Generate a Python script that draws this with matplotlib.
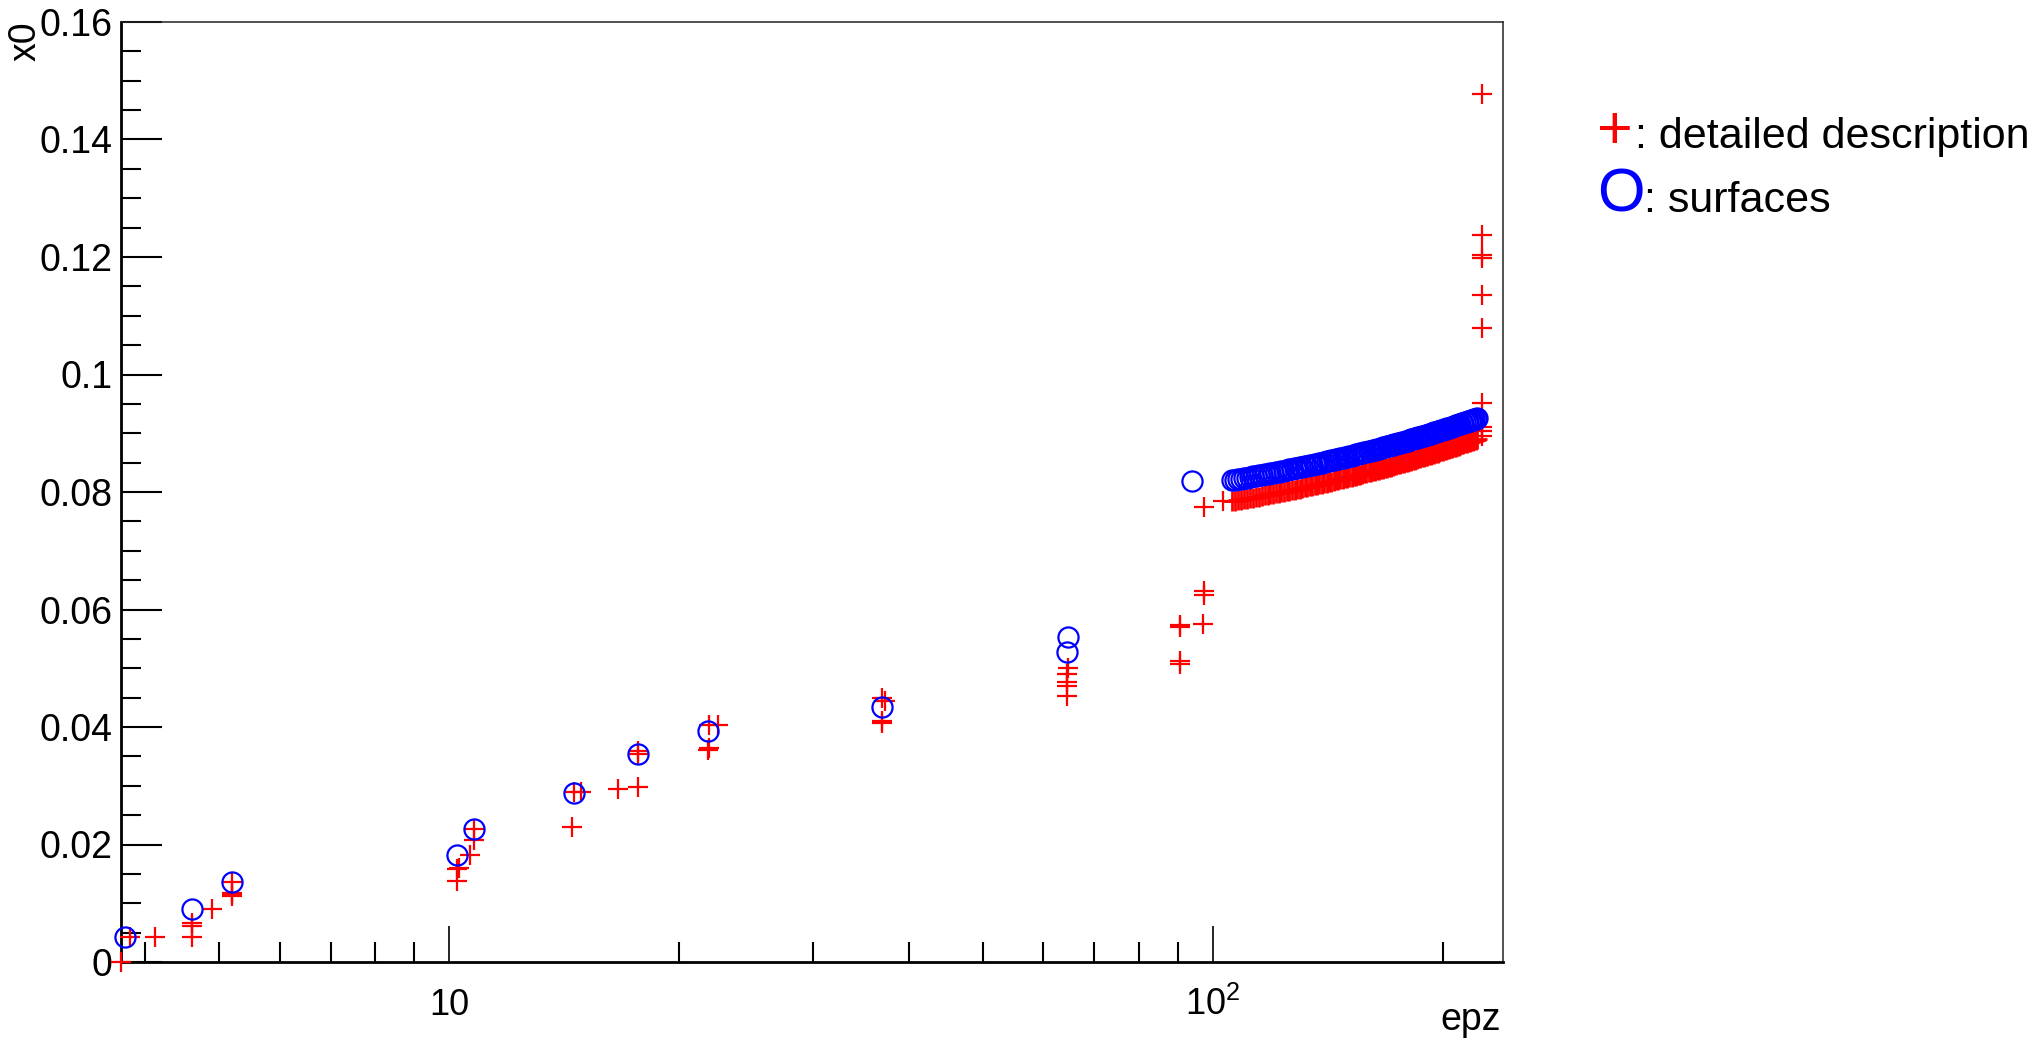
import matplotlib
matplotlib.use('Agg')
import matplotlib.pyplot as plt
from matplotlib.ticker import FixedLocator, FixedFormatter, NullFormatter, LogLocator, MultipleLocator
from matplotlib.transforms import IdentityTransform

plt.rcParams['font.family'] = ['Liberation Sans', 'DejaVu Sans']
plt.rcParams['mathtext.fontset'] = 'custom'
plt.rcParams['mathtext.rm'] = 'Liberation Sans'
plt.rcParams['mathtext.default'] = 'regular'

# ---------------- data ----------------
# detailed description (red +), isolated points
detail_epz = [3.72, 3.82, 4.12, 4.61, 4.61, 4.61, 4.89, 5.20, 5.20, 5.20, 5.20,
              10.24, 10.24, 10.30, 10.65, 10.78, 10.80,
              14.49, 14.6, 14.9, 16.65, 17.67, 17.67, 17.7,
              21.83, 21.9, 21.9, 22.5,
              36.9, 36.9, 36.9, 37.2,
              64.4, 64.4, 64.4, 64.4, 64.6,
              90.6, 90.6, 90.6, 90.6, 97.0, 97.3, 97.3, 97.3, 103.1,
              225, 225, 225, 225, 225, 225, 225, 225, 225, 225]
detail_x0 = [0.0000, 0.0043, 0.0043, 0.0043, 0.0061, 0.0066, 0.0090, 0.0112, 0.0115, 0.0118, 0.0136,
             0.0138, 0.0158, 0.0160, 0.0182, 0.0208, 0.0227,
             0.0230, 0.0290, 0.0290, 0.0294, 0.0298, 0.0354, 0.0360,
             0.0361, 0.0365, 0.0403, 0.0403,
             0.0407, 0.0410, 0.0449, 0.0445,
             0.0453, 0.0470, 0.0477, 0.0490, 0.0500,
             0.0508, 0.0513, 0.0570, 0.0573, 0.0575, 0.0625, 0.0631, 0.0775, 0.0785,
             0.0895, 0.0903, 0.0910, 0.0951, 0.1079, 0.1135, 0.1198, 0.1203, 0.1238, 0.1478]

# dense band part (both series)
band_epz = [106, 107, 108, 109, 110, 111, 112, 113, 114, 115,
            116, 117, 118, 119, 120, 121, 122, 123, 124, 125,
            126, 127, 128, 129, 130, 131, 132, 133, 134, 135,
            136, 137, 138, 139, 140, 141, 142, 143, 144, 145,
            146, 147, 148, 149, 150, 151, 152, 153, 154, 155,
            156, 157, 158, 159, 160, 161, 162, 163, 164, 165,
            166, 167, 168, 169, 170, 171, 172, 173, 174, 175,
            176, 177, 178, 179, 180, 181, 182, 183, 184, 185,
            186, 187, 188, 189, 190, 191, 192, 193, 194, 195,
            196, 197, 198, 199, 200, 201, 202, 203, 204, 205,
            206, 207, 208, 209, 210, 211, 212, 213, 214, 215,
            216, 217, 218, 219, 220, 221, 222]
band_detail_x0 = [0.07840, 0.07849, 0.07858, 0.07867, 0.07877, 0.07886, 0.07895, 0.07904, 0.07913, 0.07922,
                  0.07931, 0.07941, 0.07950, 0.07959, 0.07968, 0.07977, 0.07986, 0.07995, 0.08005, 0.08014,
                  0.08023, 0.08032, 0.08041, 0.08050, 0.08059, 0.08069, 0.08078, 0.08087, 0.08096, 0.08105,
                  0.08114, 0.08123, 0.08133, 0.08142, 0.08151, 0.08160, 0.08169, 0.08178, 0.08187, 0.08197,
                  0.08206, 0.08215, 0.08224, 0.08233, 0.08242, 0.08251, 0.08261, 0.08270, 0.08279, 0.08288,
                  0.08297, 0.08306, 0.08315, 0.08325, 0.08334, 0.08343, 0.08352, 0.08361, 0.08370, 0.08379,
                  0.08388, 0.08398, 0.08407, 0.08416, 0.08425, 0.08434, 0.08443, 0.08452, 0.08462, 0.08471,
                  0.08480, 0.08489, 0.08498, 0.08507, 0.08516, 0.08526, 0.08535, 0.08544, 0.08553, 0.08562,
                  0.08571, 0.08580, 0.08590, 0.08599, 0.08608, 0.08617, 0.08626, 0.08635, 0.08644, 0.08654,
                  0.08663, 0.08672, 0.08681, 0.08690, 0.08699, 0.08708, 0.08718, 0.08727, 0.08736, 0.08745,
                  0.08754, 0.08763, 0.08772, 0.08782, 0.08791, 0.08800, 0.08809, 0.08818, 0.08827, 0.08836,
                  0.08846, 0.08855, 0.08864, 0.08873, 0.08882, 0.08891, 0.08900]
band_surface_x0 = [0.08200, 0.08209, 0.08218, 0.08227, 0.08237, 0.08246, 0.08255, 0.08264, 0.08273, 0.08282,
                   0.08291, 0.08301, 0.08310, 0.08319, 0.08328, 0.08337, 0.08346, 0.08355, 0.08365, 0.08374,
                   0.08383, 0.08392, 0.08401, 0.08410, 0.08419, 0.08429, 0.08438, 0.08447, 0.08456, 0.08465,
                   0.08474, 0.08483, 0.08493, 0.08502, 0.08511, 0.08520, 0.08529, 0.08538, 0.08547, 0.08557,
                   0.08566, 0.08575, 0.08584, 0.08593, 0.08602, 0.08611, 0.08621, 0.08630, 0.08639, 0.08648,
                   0.08657, 0.08666, 0.08675, 0.08685, 0.08694, 0.08703, 0.08712, 0.08721, 0.08730, 0.08739,
                   0.08748, 0.08758, 0.08767, 0.08776, 0.08785, 0.08794, 0.08803, 0.08812, 0.08822, 0.08831,
                   0.08840, 0.08849, 0.08858, 0.08867, 0.08876, 0.08886, 0.08895, 0.08904, 0.08913, 0.08922,
                   0.08931, 0.08940, 0.08950, 0.08959, 0.08968, 0.08977, 0.08986, 0.08995, 0.09004, 0.09014,
                   0.09023, 0.09032, 0.09041, 0.09050, 0.09059, 0.09068, 0.09078, 0.09087, 0.09096, 0.09105,
                   0.09114, 0.09123, 0.09132, 0.09142, 0.09151, 0.09160, 0.09169, 0.09178, 0.09187, 0.09196,
                   0.09206, 0.09215, 0.09224, 0.09233, 0.09242, 0.09251, 0.09260]

# surfaces (blue O), isolated points
surf_epz = [3.77, 4.61, 5.20, 10.24, 10.80, 14.6, 17.67, 21.83, 36.9, 64.4, 64.6, 93.9]
surf_x0 = [0.0043, 0.0090, 0.0136, 0.0182, 0.0227, 0.0288, 0.0354, 0.0393, 0.0434, 0.0528, 0.0553, 0.0819]

ytick_vals = [0, 0.02, 0.04, 0.06, 0.08, 0.1, 0.12, 0.14, 0.16]
ytick_labels = ['0', '0.02', '0.04', '0.06', '0.08', '0.1', '0.12', '0.14', '0.16']
xtick_vals = [10, 100]
xtick_labels = ['10', '$10^{2}$']

# ---------------- figure ----------------
W, H = 2041, 1044
fig = plt.figure(figsize=(W / 100, H / 100), dpi=100)
ax = fig.add_axes([121 / W, 1 - 962 / H, (1503 - 121) / W, (962 - 22) / H])
ax.set_xscale('log')

red = '#ff0000'
blue = '#0000ff'
ax.plot(detail_epz, detail_x0, linestyle='none', marker='+', ms=14.6, mew=1.6,
        color=red, clip_on=False, zorder=3)
ax.plot(band_epz, band_detail_x0, linestyle='none', marker='+', ms=14.6, mew=2.0,
        color=red, clip_on=False, zorder=3)
ax.plot(surf_epz, surf_x0, linestyle='none', marker='o', ms=14.5, mew=1.6,
        mfc='none', mec=blue, clip_on=False, zorder=4)
ax.plot(band_epz, band_surface_x0, linestyle='none', marker='o', ms=14.5, mew=1.6,
        mfc='none', mec=blue, clip_on=False, zorder=4)

ax.set_xlim(3.72, 240)
ax.set_ylim(0, 0.16)

ax.xaxis.set_major_locator(FixedLocator(xtick_vals))
ax.xaxis.set_major_formatter(FixedFormatter(xtick_labels))
ax.xaxis.set_minor_locator(LogLocator(base=10, subs=[2, 3, 4, 5, 6, 7, 8, 9], numticks=20))
ax.xaxis.set_minor_formatter(NullFormatter())
ax.yaxis.set_major_locator(FixedLocator(ytick_vals))
ax.yaxis.set_major_formatter(FixedFormatter(ytick_labels))
ax.yaxis.set_minor_locator(MultipleLocator(0.005))

ax.tick_params(axis='both', which='both', direction='in', top=False, right=False, colors='black')
ax.tick_params(axis='y', which='major', length=29.5, width=1.5, pad=6, labelsize=27)
ax.tick_params(axis='y', which='minor', length=14.4, width=1.5)
ax.tick_params(axis='x', which='major', length=26, width=1.2, pad=38, labelsize=26)
ax.tick_params(axis='x', which='minor', length=14.4, width=1.5)
for lab in ax.get_xticklabels():
    lab.set_verticalalignment('baseline')

for s in ['left', 'bottom']:
    ax.spines[s].set_linewidth(2.0)
for s in ['top', 'right']:
    ax.spines[s].set_linewidth(1.1)
    ax.spines[s].set_color('#222222')

# axis titles
fig.text(26 / W, 1 - 21 / H, 'x0', rotation=90, ha='center', va='top', fontsize=27)
fig.text(1501 / W, 1 - 1030 / H, 'epz', ha='right', va='baseline', fontsize=27)

# legend texts (pixel coordinates)
idt = IdentityTransform()
fig.text(1597, H - 148, '+', color=red, fontsize=44, ha='left', va='baseline', transform=idt)
fig.text(1635, H - 148, ': detailed description', color='black', fontsize=31,
         ha='left', va='baseline', transform=idt)
fig.text(1597, H - 212, 'O', color=blue, fontsize=44, ha='left', va='baseline', transform=idt)
fig.text(1644, H - 212, ': surfaces', color='black', fontsize=31,
         ha='left', va='baseline', transform=idt)

fig.savefig('out.png', dpi=100)
